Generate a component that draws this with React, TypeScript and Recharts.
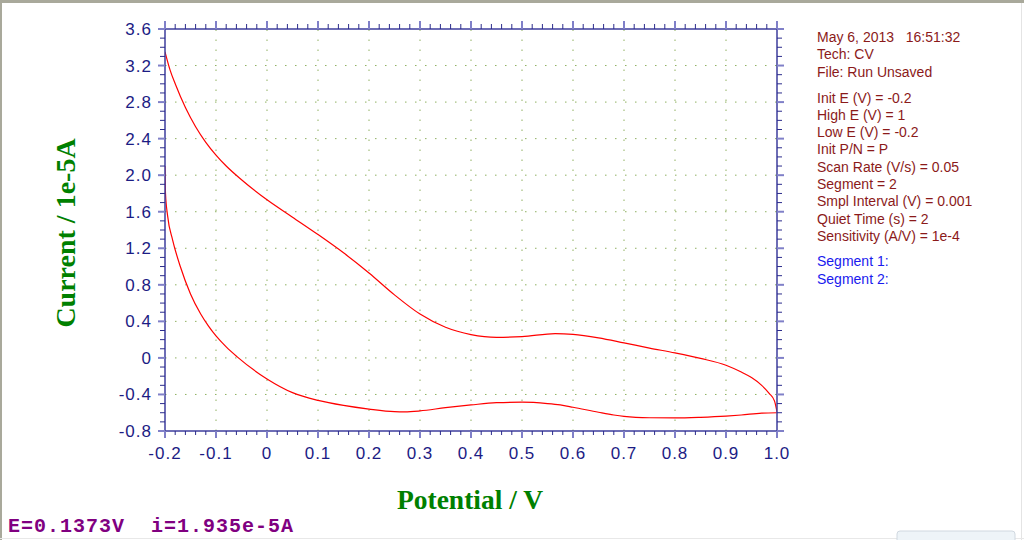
import React from 'react';
import { LineChart, Line, XAxis, YAxis, ReferenceLine } from 'recharts';

// forward scan, -0.2 V -> 1.0 V
const forwardE = [-0.2, -0.19, -0.18, -0.16, -0.14, -0.12, -0.1, -0.08, -0.05, 0, 0.05, 0.1, 0.15, 0.2, 0.25, 0.3, 0.35, 0.4, 0.45, 0.5, 0.565, 0.6, 0.65, 0.7, 0.75, 0.8, 0.85, 0.9, 0.93, 0.95, 0.97, 0.985, 0.995, 1.0];
const forwardI = [3.35, 3.15, 3.0, 2.74, 2.53, 2.36, 2.22, 2.1, 1.95, 1.73, 1.54, 1.35, 1.15, 0.93, 0.69, 0.48, 0.335, 0.255, 0.225, 0.232, 0.266, 0.258, 0.22, 0.165, 0.108, 0.055, -0.005, -0.08, -0.155, -0.215, -0.3, -0.39, -0.47, -0.59];

// reverse scan, 1.0 V -> -0.2 V
const reverseE = [1.0, 0.97, 0.93, 0.9, 0.85, 0.8, 0.75, 0.7, 0.68, 0.65, 0.6, 0.575, 0.55, 0.5, 0.45, 0.4, 0.35, 0.3, 0.27, 0.25, 0.2, 0.15, 0.1, 0.05, 0, -0.059, -0.08, -0.1, -0.115, -0.13, -0.15, -0.17, -0.185, -0.195, -0.199, -0.2];
const reverseI = [-0.6, -0.605, -0.625, -0.637, -0.65, -0.657, -0.655, -0.64, -0.625, -0.595, -0.54, -0.515, -0.5, -0.485, -0.49, -0.515, -0.545, -0.58, -0.59, -0.588, -0.56, -0.52, -0.465, -0.38, -0.23, 0.014, 0.12, 0.24, 0.35, 0.48, 0.7, 1.0, 1.29, 1.56, 1.8, 2.1];

const xMajor = [-0.2, -0.1, 0, 0.1, 0.2, 0.3, 0.4, 0.5, 0.6, 0.7, 0.8, 0.9, 1.0];
const xLabels = ['-0.2', '-0.1', '0', '0.1', '0.2', '0.3', '0.4', '0.5', '0.6', '0.7', '0.8', '0.9', '1.0'];
const yMajor = [3.6, 3.2, 2.8, 2.4, 2.0, 1.6, 1.2, 0.8, 0.4, 0, -0.4, -0.8];
const yLabels = ['3.6', '3.2', '2.8', '2.4', '2.0', '1.6', '1.2', '0.8', '0.4', '0', '-0.4', '-0.8'];

const infoLines = ['May 6, 2013   16:51:32', 'Tech: CV', 'File: Run Unsaved'];
const paramLines = ['Init E (V) = -0.2', 'High E (V) = 1', 'Low E (V) = -0.2', 'Init P/N = P', 'Scan Rate (V/s) = 0.05', 'Segment = 2', 'Smpl Interval (V) = 0.001', 'Quiet Time (s) = 2', 'Sensitivity (A/V) = 1e-4'];
const segmentLines = ['Segment 1:', 'Segment 2:'];
const statusText = 'E=0.1373V  i=1.935e-5A';

const forward = forwardE.map((e, k) => ({ e, i: forwardI[k] }));
const reverse = reverseE.map((e, k) => ({ e, i: reverseI[k] }));

// minor ticks between the major ones
const subdivide = (major, parts) => {
  const out = [];
  const lo = Math.min(...major), hi = Math.max(...major);
  const step = Math.abs(major[1] - major[0]) / parts;
  const n = Math.round((hi - lo) / step);
  for (let k = 0; k <= n; k++) out.push(Math.round((lo + k * step) * 1000) / 1000);
  return out;
};
const xTicks = subdivide(xMajor, 5);
const yTicks = subdivide(yMajor, 4);

const AXIS = '#3c3c9c';
const MINOR = '#2c2c8c';
const MAJOR = '#8080c8';
const LABEL = '#1c1c84';
const GRID = '#8fb060';
const FONT = '"Liberation Sans", Arial, sans-serif';

const findIdx = (arr, v) => arr.findIndex(m => Math.abs(m - v) < 1e-6);

function BottomTick({ x, y, payload }: any) {
  const idx = findIdx(xMajor, payload.value);
  const major = idx >= 0;
  return (
    <g>
      <line x1={x} x2={x} y1={y} y2={y + (major ? 7 : 4)} stroke={major ? MAJOR : MINOR} strokeWidth={major ? 2 : 1} />
      {major && (
        <text x={x} y={y + 28} textAnchor="middle" fill={LABEL} fontSize={17} fontFamily={FONT} letterSpacing={1}>
          {xLabels[idx]}
        </text>
      )}
    </g>
  );
}

function TopTick({ x, y, payload }: any) {
  const major = findIdx(xMajor, payload.value) >= 0;
  return <line x1={x} x2={x} y1={y} y2={y - (major ? 8 : 5)} stroke={major ? MAJOR : MINOR} strokeWidth={major ? 2 : 1} />;
}

function LeftTick({ x, y, payload }: any) {
  const idx = findIdx(yMajor, payload.value);
  const major = idx >= 0;
  return (
    <g>
      <line x1={x} x2={x - (major ? 7 : 5)} y1={y} y2={y} stroke={major ? MAJOR : MINOR} strokeWidth={major ? 2 : 1} />
      {major && (
        <text x={x - 13} y={y + 6} textAnchor="end" fill={LABEL} fontSize={17} fontFamily={FONT} letterSpacing={1}>
          {yLabels[idx]}
        </text>
      )}
    </g>
  );
}

function RightTick({ x, y, payload }: any) {
  const major = findIdx(yMajor, payload.value) >= 0;
  return <line x1={x} x2={x + (major ? 7 : 5)} y1={y} y2={y} stroke={major ? MAJOR : MINOR} strokeWidth={major ? 2 : 1} />;
}

export default function App() {
  return (
    <div style={{ position: 'absolute', left: 0, top: 0, width: 1024, height: 540, background: '#fff', overflow: 'hidden' }}>
      <div style={{ position: 'absolute', left: 0, top: 0 }}>
        <LineChart width={1024} height={540} margin={{ top: 21, right: 239, bottom: 79, left: 105 }}>
          <XAxis dataKey="e" type="number" domain={[-0.2, 1.0]} ticks={xTicks} interval={0} allowDataOverflow
            axisLine={{ stroke: AXIS, strokeWidth: 1.5 }} tickLine={false} tickSize={0} tickMargin={0} height={30}
            tick={<BottomTick />} />
          <XAxis xAxisId="top" orientation="top" dataKey="e" type="number" domain={[-0.2, 1.0]} ticks={xTicks} interval={0} allowDataOverflow
            axisLine={{ stroke: AXIS, strokeWidth: 1.5 }} tickLine={false} tickSize={0} tickMargin={0} height={8}
            tick={<TopTick />} />
          <YAxis type="number" domain={[-0.8, 3.6]} ticks={yTicks} interval={0} allowDataOverflow
            axisLine={{ stroke: AXIS, strokeWidth: 1.5 }} tickLine={false} tickSize={0} tickMargin={0} width={60}
            tick={<LeftTick />} />
          <YAxis yAxisId="right" orientation="right" type="number" domain={[-0.8, 3.6]} ticks={yTicks} interval={0} allowDataOverflow
            axisLine={{ stroke: AXIS, strokeWidth: 1.5 }} tickLine={false} tickSize={0} tickMargin={0} width={8}
            tick={<RightTick />} />
          {xMajor.slice(1, -1).map(v => (
            <ReferenceLine key={'vx' + v} x={v} stroke={GRID} strokeDasharray="1.5 8.5" />
          ))}
          {yMajor.slice(1, -1).map(v => (
            <ReferenceLine key={'hy' + v} y={v} stroke={GRID} strokeDasharray="1.5 8.5" />
          ))}
          <Line data={forward} dataKey="i" type="monotone" stroke="#ff0000" strokeWidth={1.2} dot={false} isAnimationActive={false} />
          <Line data={reverse} dataKey="i" type="monotone" stroke="#ff0000" strokeWidth={1.2} dot={false} isAnimationActive={false} />
        </LineChart>
      </div>

      <svg width={1024} height={540} style={{ position: 'absolute', left: 0, top: 0, pointerEvents: 'none' }}>
        <rect x={0} y={0} width={1024} height={3} fill="#a9a99b" />
        <rect x={0} y={0} width={2} height={540} fill="#a9a99b" />
        <line x1={1021.5} x2={1021.5} y1={3} y2={540} stroke="#e4e4e4" />
        <line x1={0} x2={1024} y1={538.5} y2={538.5} stroke="#e8e8e8" />
        <rect x={897} y={531} width={118} height={12} rx={3} fill="#eef4f8" stroke="#d0d8e0" />

        <text x={75} y={233} transform="rotate(-90 75 233)" textAnchor="middle" fill="#008000"
          fontFamily='"Liberation Serif", "Times New Roman", serif' fontWeight="bold" fontSize={28}>
          Current / 1e-5A
        </text>
        <text x={470} y={509} textAnchor="middle" fill="#008000"
          fontFamily='"Liberation Serif", "Times New Roman", serif' fontWeight="bold" fontSize={27.5}>
          Potential / V
        </text>

        <g fontFamily={FONT} fontSize={14} fill="#8b1a1a">
          {infoLines.map((t, k) => (
            <text key={t} x={817} y={42} dy={k * 17.4} style={{ whiteSpace: 'pre' }}>{t}</text>
          ))}
          {paramLines.map((t, k) => (
            <text key={t} x={817} y={102.5} dy={k * 17.3}>{t}</text>
          ))}
        </g>
        <g fontFamily={FONT} fontSize={14} fill="#1a1aee">
          {segmentLines.map((t, k) => (
            <text key={t} x={817} y={266} dy={k * 17.8}>{t}</text>
          ))}
        </g>

        <text x={8} y={532} fill="#800080" fontFamily='"Liberation Mono", "Courier New", monospace' fontWeight="bold"
          fontSize={20} letterSpacing={1} style={{ whiteSpace: 'pre' }}>
          {statusText}
        </text>
      </svg>
    </div>
  );
}
